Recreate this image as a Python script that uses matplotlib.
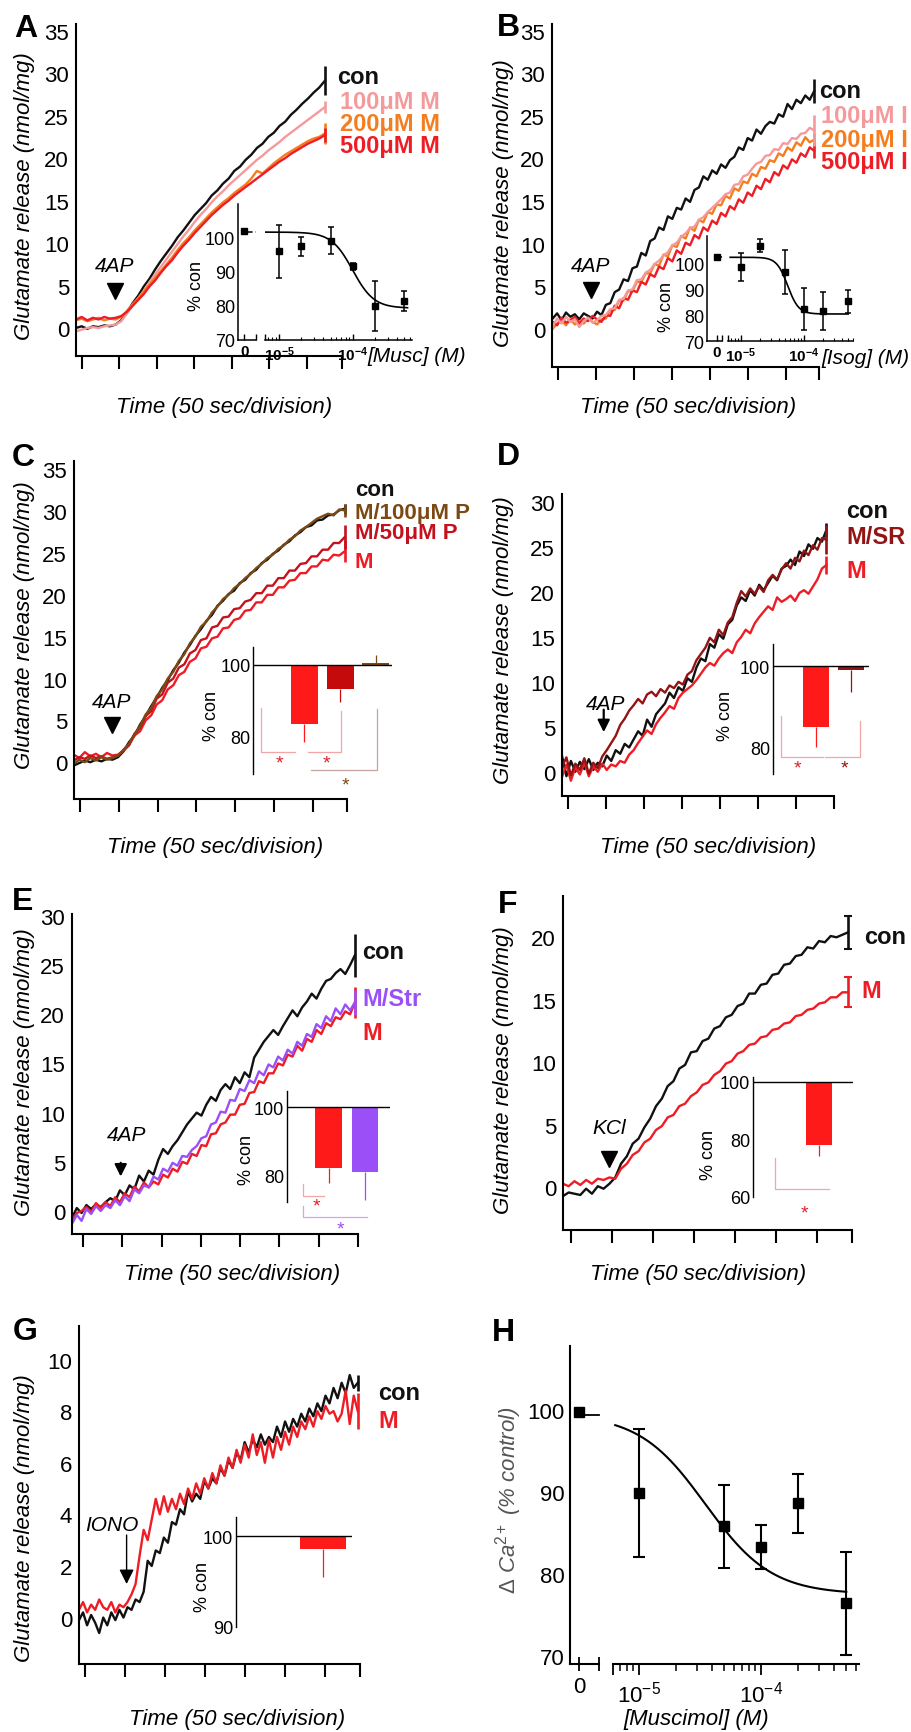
import numpy as np
import matplotlib
matplotlib.use('Agg')
import matplotlib.pyplot as plt
from matplotlib.ticker import LogLocator, NullFormatter, FixedLocator

plt.rcParams['font.family'] = ['Liberation Sans', 'DejaVu Sans']
plt.rcParams['mathtext.fontset'] = 'custom'
plt.rcParams['mathtext.rm'] = 'Liberation Sans'
plt.rcParams['mathtext.it'] = 'Liberation Sans:italic'
plt.rcParams['mathtext.bf'] = 'Liberation Sans:bold'

# ---------------- colours ----------------
BLACK = '#111111'
PINK = '#F49A9C'
ORANGE = '#F47D20'
RED = '#EE1C25'
BROWN = '#7B4A14'
DKRED = '#C3121E'
MAROON = '#931414'
PURPLE = '#9B4FF7'
LPINK = '#F3A6A8'
LPURPLE = '#C9A6F6'
LBROWN = '#C4A4A0'

# ---------------- data ----------------
TICKS_S = [0, 50, 100, 150, 200, 250, 300]

# Panel A (time range of traces, s)
A_T = (-8, 324)
A_CON = [0.0, 0.2, -0.1, 0.2, 0.1, 0.3, 0.2, 0.4, 0.9, 1.8, 2.9, 3.8, 4.9, 5.8, 6.9, 7.9, 8.8, 9.7, 10.7, 11.5,
         12.4, 13.3, 14.0, 14.7, 15.6, 16.2, 17.0, 17.6, 18.5, 19.0, 19.8, 20.4, 21.2, 21.7, 22.5, 23.0, 23.8, 24.3,
         25.1, 25.7, 26.4, 27.0, 27.7, 28.3, 29.1]
A_100 = [-0.4, -0.2, 0.0, 0.1, 0.0, 0.2, 0.3, 0.4, 0.8, 1.7, 2.6, 3.5, 4.4, 5.4, 6.3, 7.2, 8.1, 9.0, 9.9, 10.8,
         11.6, 12.5, 13.3, 14.0, 14.8, 15.5, 16.1, 16.8, 17.4, 18.0, 18.6, 19.2, 19.8, 20.3, 20.9, 21.4, 21.9, 22.5,
         23.0, 23.5, 24.0, 24.5, 25.0, 25.5, 26.0]
A_200 = [0.9, 1.1, 0.8, 1.0, 1.2, 0.9, 1.1, 1.0, 1.3, 2.0, 2.8, 3.5, 4.3, 5.1, 5.9, 6.7, 7.5, 8.3, 9.2, 10.0,
         10.7, 11.5, 12.2, 12.9, 13.6, 14.2, 14.8, 15.3, 15.9, 16.4, 16.9, 17.6, 18.5, 18.2, 18.8, 19.4, 19.9, 20.4,
         20.8, 21.2, 21.6, 22.0, 22.3, 22.5, 22.9]
A_500 = [1.0, 1.3, 0.9, 1.2, 1.0, 1.3, 1.1, 1.2, 1.4, 1.9, 2.6, 3.3, 4.0, 4.9, 5.6, 6.5, 7.3, 8.0, 8.9, 9.7,
         10.4, 11.2, 11.9, 12.6, 13.3, 13.9, 14.5, 15.0, 15.6, 16.1, 16.6, 17.1, 17.6, 18.1, 18.6, 19.1, 19.6, 20.0,
         20.5, 20.9, 21.3, 21.7, 22.0, 22.3, 22.7]
A_ERR = [1.7, 0.7, 1.2, 0.8]

# Panel B
B_T = (-7, 337)
B_CON = [1.2, 1.8, 1.0, 1.9, 1.4, 1.7, 1.1, 1.8, 1.5, 1.2, 2.0, 1.6, 2.8, 3.0, 4.3, 4.6, 5.8, 5.6, 7.1, 7.3,
         8.9, 8.6, 10.3, 10.6, 11.9, 11.6, 13.2, 12.9, 14.2, 14.0, 15.3, 14.9, 16.3, 16.6, 17.9, 17.5, 18.6, 18.2,
         19.3, 18.9, 19.8, 20.2, 21.3, 21.0, 22.4, 22.1, 23.4, 22.9, 23.8, 24.3, 24.1, 25.2, 24.9, 26.4, 25.8, 26.9,
         26.5, 27.4, 26.9, 27.9]
B_100 = [0.3, 1.2, 0.6, 1.4, 0.8, 1.1, 0.2, 0.9, 1.3, 0.7, 1.0, 1.5, 1.6, 2.3, 2.4, 3.4, 3.5, 4.5, 4.6, 5.7,
         5.8, 6.6, 6.9, 7.6, 8.0, 8.6, 9.0, 9.8, 10.1, 10.8, 11.2, 11.8, 12.0, 12.8, 13.1, 13.7, 14.2, 14.7, 15.2,
         15.8, 16.0, 16.9, 17.0, 17.9, 18.1, 18.8, 19.4, 19.6, 20.3, 20.4, 21.1, 21.0, 21.8, 21.7, 22.4, 22.3, 22.9,
         23.0, 23.6, 23.3]
B_200 = [0.0, 0.6, 1.0, 0.4, 1.1, 0.5, 0.9, 0.6, 1.2, 0.8, 0.5, 1.1, 1.2, 2.2, 2.2, 3.3, 3.3, 4.4, 4.4, 5.5,
         5.5, 6.5, 6.5, 7.6, 7.4, 8.7, 8.5, 9.8, 9.6, 10.9, 10.6, 11.9, 11.5, 12.8, 12.5, 13.7, 13.5, 14.6, 14.5,
         15.6, 15.3, 16.5, 16.2, 17.3, 17.1, 18.2, 17.9, 19.0, 18.8, 19.8, 19.6, 20.6, 20.3, 21.3, 20.9, 21.9, 21.5,
         22.5, 21.9, 22.2]
B_500 = [0.8, 0.4, 1.3, 0.7, 1.0, 1.4, 0.6, 1.2, 0.9, 1.5, 1.1, 0.8, 1.6, 1.5, 2.7, 2.4, 3.6, 3.4, 4.5, 4.3,
         5.5, 5.2, 6.4, 6.1, 7.3, 7.0, 8.3, 7.9, 9.2, 8.8, 10.1, 9.8, 11.0, 10.6, 11.9, 11.5, 12.7, 12.3, 13.6,
         13.2, 14.4, 14.0, 15.2, 14.8, 16.0, 15.6, 16.8, 16.4, 17.6, 17.2, 18.4, 18.0, 19.2, 18.8, 19.9, 19.5, 20.6,
         20.2, 21.3, 20.9]
B_ERR = [1.4, 1.8, 0.8, 0.9]

# Panel C
C_T = (-8, 341)
C_CON = [-0.4, -0.1, 0.2, 0.0, 0.3, 0.1, 0.4, 0.3, 0.6, 1.3, 2.4, 3.2, 4.5, 5.5, 6.7, 7.7, 8.9, 9.8, 11.0, 11.9,
         13.1, 14.0, 15.1, 15.9, 16.9, 17.6, 18.7, 19.3, 20.1, 20.5, 21.4, 21.8, 22.6, 23.0, 23.8, 24.2, 24.9, 25.3,
         26.0, 26.4, 27.1, 27.5, 28.1, 28.3, 28.9, 29.0, 29.5, 29.6, 30.1, 30.3]
C_100P = [-0.2, 0.3, 0.0, 0.5, 0.2, 0.6, 0.3, 0.5, 0.8, 1.5, 2.2, 3.4, 4.3, 5.7, 6.5, 7.9, 8.7, 10.0, 10.8, 12.1,
          12.9, 14.2, 15.0, 16.2, 16.8, 17.9, 18.6, 19.5, 20.0, 20.8, 21.3, 22.0, 22.5, 23.2, 23.7, 24.4, 24.8, 25.5,
          25.9, 26.6, 27.0, 27.7, 28.1, 28.6, 29.1, 29.4, 29.7, 29.5, 30.2, 30.1]
C_50P = [0.2, 0.6, 0.4, 0.8, 0.5, 0.7, 0.4, 0.6, 0.8, 1.4, 2.1, 3.4, 4.1, 5.5, 6.1, 7.6, 8.1, 9.5, 10.0, 11.3,
         11.7, 13.0, 13.4, 14.6, 14.8, 16.1, 16.3, 17.3, 17.4, 18.3, 18.4, 19.2, 19.4, 20.2, 20.2, 21.1, 21.1, 22.0,
         22.0, 22.9, 22.9, 23.7, 23.8, 24.6, 24.6, 25.4, 25.4, 26.2, 26.2, 26.9]
C_M = [0.9, 0.5, 1.2, 0.7, 1.0, 0.6, 1.1, 0.8, 0.9, 1.4, 2.0, 3.2, 3.7, 5.0, 5.6, 6.9, 7.4, 8.7, 9.2, 10.4,
       10.8, 12.0, 12.4, 13.6, 13.8, 14.8, 15.0, 16.0, 16.1, 17.0, 17.2, 18.1, 18.2, 19.1, 19.1, 20.0, 20.0, 20.9,
       20.9, 21.7, 21.8, 22.6, 22.6, 23.4, 23.4, 24.2, 24.1, 24.8, 24.7, 25.2]
C_ERR = [0.6, 0.8, 1.4, 1.3]
C_BAR_VALS = [83.5, 93.1, 100.4]
C_BAR_LO = [5.1, 3.5, 0.0]
C_BAR_HI = [0.0, 0.0, 2.3]

# Panel D
D_T = (-8, 340)
D_CON = [1.8, -0.5, 1.2, 0.0, 1.1, 0.3, 1.4, 0.2, 1.0, 0.6, 1.8, 1.2, 2.4, 2.0, 3.1, 2.7, 3.6, 4.5, 4.0, 5.8,
         5.0, 6.4, 7.0, 7.6, 8.8, 8.2, 9.4, 9.0, 10.4, 10.0, 11.6, 12.6, 12.3, 14.2, 13.8, 15.3, 14.8, 16.4, 16.9,
         18.5, 19.4, 19.0, 20.2, 19.6, 20.8, 20.2, 21.0, 21.8, 21.3, 22.6, 22.9, 23.6, 23.0, 24.5, 24.0, 25.3, 24.8,
         26.0, 25.6, 26.9]
D_SR = [0.5, 1.6, -0.4, 0.9, 0.2, 1.5, -0.2, 1.0, 0.4, 1.7, 2.4, 3.2, 4.0, 5.2, 5.9, 6.8, 7.4, 8.1, 7.6, 8.6,
        8.9, 8.4, 9.2, 8.8, 9.6, 9.3, 10.0, 9.7, 10.8, 11.2, 12.4, 13.1, 13.8, 14.9, 14.4, 15.8, 15.2, 16.6, 17.2,
        18.8, 20.1, 19.5, 20.4, 19.8, 20.6, 20.0, 21.3, 21.9, 21.4, 22.5, 23.2, 22.6, 23.8, 23.4, 24.6, 24.1, 25.2,
        24.7, 26.0, 25.8]
D_M = [-0.6, 0.8, -1.0, 0.5, -0.3, 1.0, -0.5, 0.6, 0.0, 0.9, 0.2, 0.8, 0.6, 1.2, 1.0, 1.9, 2.4, 3.2, 3.9, 4.6,
       4.2, 5.3, 6.0, 6.6, 7.3, 7.0, 8.2, 8.8, 9.2, 9.6, 10.2, 10.9, 11.6, 12.1, 11.8, 12.6, 13.2, 13.6, 13.2, 14.4,
       15.0, 15.8, 15.4, 16.5, 17.2, 17.8, 18.4, 18.0, 19.4, 18.9, 19.2, 19.6, 19.0, 19.9, 20.2, 19.8, 20.6, 21.4,
       22.6, 23.0]
D_ERR = [0.8, 1.6, 1.0]
D_BAR_VALS = [85.0, 99.0]
D_BAR_LO = [4.9, 5.4]

# Panel E
E_T = (-14, 346)
E_CON = [-0.7, 0.3, -0.2, 0.6, 0.2, 0.7, 0.4, 0.9, 1.3, 1.0, 2.1, 1.6, 2.6, 2.2, 3.6, 3.0, 4.1, 3.7, 5.2, 6.3,
         5.8, 6.6, 7.2, 8.0, 8.8, 9.4, 10.0, 9.7, 10.8, 11.6, 11.2, 12.3, 12.9, 12.4, 13.6, 13.0, 14.1, 13.6, 15.6,
         16.4, 17.2, 17.8, 18.4, 17.9, 18.8, 19.6, 20.4, 19.8, 20.7, 21.3, 22.1, 21.6, 22.6, 23.4, 23.6, 24.2, 24.6,
         24.1, 25.0, 26.0]
E_STR = [-1.3, -0.4, -1.0, 0.2, -0.3, 0.5, 0.0, 0.6, 0.3, 1.1, 0.6, 1.5, 1.0, 2.2, 1.8, 2.6, 2.4, 3.5, 3.2, 4.3,
         4.0, 4.9, 4.6, 5.6, 5.5, 6.2, 6.6, 7.4, 7.6, 8.8, 9.0, 10.1, 10.0, 11.3, 11.2, 12.4, 12.2, 13.3, 13.0, 14.2,
         13.8, 14.9, 14.6, 15.7, 15.3, 16.4, 16.0, 17.2, 16.8, 18.0, 17.7, 19.0, 18.6, 19.8, 19.3, 20.6, 20.0, 21.0,
         20.4, 21.2]
E_M = [-0.9, -0.2, 0.0, 0.4, -0.1, 0.8, 0.3, 0.9, 0.5, 1.4, 0.9, 1.8, 1.4, 2.5, 2.0, 2.9, 2.4, 3.0, 2.7, 3.7,
       3.4, 4.3, 4.0, 5.0, 4.8, 5.8, 5.6, 6.7, 6.6, 7.8, 7.9, 8.8, 9.0, 9.8, 9.8, 10.8, 10.9, 12.0, 12.1, 13.2,
       13.0, 14.0, 14.0, 15.0, 14.8, 15.9, 15.7, 16.8, 16.3, 17.5, 17.2, 18.4, 18.0, 19.1, 18.8, 19.7, 19.5, 20.3,
       20.0, 21.2]
E_ERR = [2.2, 1.3, 1.6]
E_BAR_VALS = [82.0, 81.0]
E_BAR_LO = [4.4, 8.4]

# Panel F
F_T = (-10, 338)
F_CON = [-0.7, -0.4, -0.5, -0.6, -0.1, -0.5, 0.1, -0.1, 0.3, 0.8, 1.9, 2.5, 3.5, 3.9, 4.8, 5.5, 6.5, 7.1, 8.1, 8.5,
         9.5, 9.8, 10.8, 10.9, 11.7, 11.9, 12.7, 12.9, 13.6, 13.8, 14.5, 14.7, 15.5, 15.5, 16.2, 16.3, 17.0, 17.1,
         17.8, 17.9, 18.5, 18.6, 19.2, 19.1, 19.7, 19.6, 20.1, 20.0, 20.2, 20.4]
F_M = [0.3, 0.1, 0.5, 0.2, 0.6, 0.3, 0.7, 0.6, 0.8, 0.7, 1.5, 1.9, 2.6, 2.9, 3.6, 3.9, 4.6, 4.9, 5.6, 5.8,
       6.5, 6.7, 7.3, 7.6, 8.2, 8.4, 9.0, 9.3, 9.9, 10.1, 10.7, 10.9, 11.4, 11.5, 12.0, 12.1, 12.6, 12.7, 13.1,
       13.2, 13.7, 13.8, 14.2, 14.3, 14.7, 14.8, 15.2, 15.2, 15.6, 15.6]
F_ERR = [1.3, 1.2]
F_BAR_VALS = [78.2]
F_BAR_LO = [3.9]

# Panel G
G_T = (-7.5, 341)
G_CON = [-0.1, 0.2, -0.3, 0.1, -0.2, -0.6, 0.0, -0.3, 0.2, -0.1, 0.3, 0.0, 0.4, 0.3, 0.7, 0.6, 1.0, 2.2, 2.0, 2.6,
         2.5, 3.1, 2.9, 3.7, 3.6, 4.2, 4.0, 4.9, 4.5, 4.8, 4.6, 5.3, 5.0, 5.4, 5.2, 5.8, 5.5, 6.1, 5.8, 6.4,
         6.1, 6.8, 6.4, 6.9, 6.6, 7.1, 6.7, 7.0, 6.8, 7.4, 7.0, 7.6, 7.2, 7.7, 7.4, 7.9, 7.6, 8.1, 7.8, 8.3,
         8.0, 8.6, 8.3, 8.9, 8.5, 9.1, 8.7, 9.4, 8.9, 9.1]
G_M = [0.3, 0.6, 0.2, 0.5, 0.3, 0.7, 0.4, 0.3, 0.6, 0.2, 0.5, 0.4, 0.6, 0.9, 1.3, 2.4, 3.4, 3.0, 3.8, 4.6,
       4.0, 4.7, 4.1, 4.6, 4.2, 4.8, 4.4, 5.0, 4.6, 5.2, 4.8, 5.4, 5.0, 5.6, 5.2, 5.9, 5.5, 6.2, 5.8, 6.5,
       6.0, 6.7, 6.2, 7.1, 6.3, 6.8, 6.0, 6.9, 6.2, 7.0, 6.5, 7.2, 6.7, 7.4, 7.0, 7.6, 7.3, 7.8, 7.4, 8.0,
       7.7, 8.2, 7.9, 8.0, 7.6, 7.9, 8.8, 7.5, 8.6, 8.0]
G_ERR = [0.3, 0.7]
G_BAR_VALS = [98.6]
G_BAR_LO = [3.1]

# Dose-response insets (A: muscimol, B: isoguvacine) and panel H
DR_CONC = [1e-5, 2e-5, 5e-5, 1e-4, 2e-4, 5e-4]
A_DR_ZERO = 101.7
A_DR_VALS = [95.9, 97.3, 99.0, 91.5, 79.9, 81.3]
A_DR_ERR = [7.7, 2.8, 3.9, 1.0, 7.2, 2.9]
A_FIT = (101.5, 79.3, 1.0e-4, 3.0)      # top, bottom, IC50, Hill
B_DR_ZERO = 102.3
B_DR_VALS = [98.5, 106.8, 96.5, 82.4, 81.7, 85.4]
B_DR_ERR = [5.5, 2.5, 8.5, 8.0, 7.4, 4.4]
B_FIT = (102.3, 80.5, 5.5e-5, 5.0)
H_CONC = [1e-5, 5e-5, 1e-4, 2e-4, 5e-4]
H_ZERO = 99.8
H_VALS = [89.9, 85.8, 83.3, 88.6, 76.4]
H_ERR = [7.8, 5.1, 2.65, 3.6, 6.3]
H_FIT = (99.5, 77.5, 3.5e-5, 1.6)


def hill(c, top, bottom, ic50, n):
    c = np.asarray(c)
    return bottom + (top - bottom) / (1.0 + (c / ic50) ** n)


# ---------------- figure helpers ----------------
W, H = 912, 1733
fig = plt.figure(figsize=(W / 100, H / 100), dpi=100)
fig.patch.set_facecolor('white')


def box(l, r, t, b):
    return [l / W, 1 - b / H, (r - l) / W, (b - t) / H]


def ftext(x, y, s, **kw):
    kw.setdefault('ha', 'center')
    kw.setdefault('va', 'center')
    fig.text(x / W, 1 - y / H, s, **kw)


def style(ax, keep=('left', 'bottom'), lw=1.5):
    for s in ['left', 'right', 'top', 'bottom']:
        ax.spines[s].set_visible(s in keep)
        ax.spines[s].set_linewidth(lw)
    ax.patch.set_alpha(0)


def main_axes(l, r, t, b, xr, yr, yt):
    ax = fig.add_axes(box(l, r, t, b))
    style(ax)
    ax.set_xlim(xr)
    ax.set_ylim(yr)
    ax.set_xticks(TICKS_S + [xr[1]])
    ax.set_xticklabels([])
    ax.set_yticks(yt)
    ax.tick_params(axis='x', direction='out', length=9, width=1.5)
    ax.tick_params(axis='y', length=0, pad=5, labelsize=16)
    return ax


def traces(ax, trange, series, capsize=0):
    for vals, col, err in series:
        t = np.linspace(trange[0], trange[1], len(vals))
        ax.plot(t, vals, color=col, lw=1.7)
        ax.errorbar([trange[1]], [vals[-1]], yerr=[err], fmt='none', ecolor=col,
                    elinewidth=1.9, capsize=capsize, capthick=1.5)


def tri_arrow(ax, t, y, label, ty, ms=12):
    ax.plot([t], [y], marker='v', ms=ms, color='k', clip_on=False)
    ax.text(t, ty, label, style='italic', fontsize=15, ha='center', va='center')


def stem_arrow(ax, t, y_tip, y_start, label, tx, ty, lw=1.6, scale=18):
    ax.annotate('', xy=(t, y_tip), xytext=(t, y_start),
                arrowprops=dict(arrowstyle='-|>', color='k', lw=lw, mutation_scale=scale,
                                shrinkA=0, shrinkB=0))
    ax.text(tx, ty, label, style='italic', fontsize=15, ha='center', va='center')


def bar_inset(l, r, t, b, xr, yr, yt, vals, lo, hi, colors, width):
    ax = fig.add_axes(box(l, r, t, b))
    style(ax, keep=('left',), lw=1.0)
    ax.set_xlim(xr)
    ax.set_ylim(yr)
    ax.set_xticks([])
    ax.set_yticks(yt)
    ax.tick_params(axis='y', length=0, labelsize=13, pad=2)
    x = np.arange(1, len(vals) + 1)
    ax.bar(x, np.array(vals) - 100, bottom=100, width=width, color=colors, edgecolor='none')
    ax.axhline(100, color='k', lw=1.0)
    for xi, v, l_, h_, c in zip(x, vals, lo, hi, colors):
        ax.errorbar([xi], [v], yerr=[[l_], [h_]], fmt='none', ecolor=c, elinewidth=0.9, capsize=0)
    return ax


def bracket(ax, xs, ys, color):
    ax.plot(xs, ys, color=color, lw=0.9, clip_on=False)


def star(ax, x, y, color):
    ax.text(x, y, '*', color=color, fontsize=14, ha='center', va='center', clip_on=False)


def dose_inset(box0, box1, yr, xr0, xr1, zero, vals, errs, fit, curve_lo, curve_hi):
    a0 = fig.add_axes(box(*box0))
    style(a0, lw=1.1)
    a0.set_xlim(xr0)
    a0.set_ylim(yr)
    a0.set_yticks([70, 80, 90, 100])
    a0.tick_params(axis='y', length=0, labelsize=13, pad=2)
    a0.set_xticks([0, xr0[1]])
    a0.set_xticklabels(['0', ''])
    a0.tick_params(axis='x', direction='in', length=4, width=1.0, labelsize=11, pad=3)
    for lb in a0.get_xticklabels():
        lb.set_fontweight('bold')
    a0.plot([0], [zero], 's', ms=4, color='k', clip_on=False)
    a0.plot([0.35, xr0[1]], [fit[0], fit[0]], color='k', lw=1.1, ls=(0, (3, 2)), clip_on=False)

    a1 = fig.add_axes(box(*box1))
    style(a1, keep=('bottom',), lw=1.1)
    a1.set_xscale('log')
    a1.set_xlim(xr1)
    a1.set_ylim(yr)
    a1.set_yticks([])
    a1.xaxis.set_major_locator(FixedLocator([xr1[0], 1e-5, 1e-4]))
    a1.set_xticklabels(['', r'$\mathbf{10^{-5}}$', r'$\mathbf{10^{-4}}$'])
    a1.xaxis.set_minor_locator(LogLocator(base=10, subs=np.arange(2, 10)))
    a1.xaxis.set_minor_formatter(NullFormatter())
    a1.tick_params(axis='x', which='major', direction='in', length=4, width=1.0, labelsize=11, pad=3)
    a1.tick_params(axis='x', which='minor', direction='in', length=2.5, width=0.8)
    c = np.logspace(np.log10(curve_lo), np.log10(curve_hi), 200)
    a1.plot(c, hill(c, *fit), color='k', lw=1.2)
    a1.errorbar(DR_CONC, vals, yerr=errs, fmt='s', ms=4, color='k', ecolor='k',
                elinewidth=1.1, capsize=2.5, capthick=1.1, clip_on=False)
    return a0, a1


# ================= Panel A =================
axA = main_axes(76, 342, 25, 357, (-8, 347), (-3.3, 35.8), [0, 5, 10, 15, 20, 25, 30, 35])
traces(axA, A_T, [(A_CON, BLACK, A_ERR[0]), (A_100, PINK, A_ERR[1]),
                  (A_200, ORANGE, A_ERR[2]), (A_500, RED, A_ERR[3])])
tri_arrow(axA, 44, 4.4, '4AP', 7.3)
dose_inset((238, 255.7, 205, 341), (265, 411.7, 205, 341), (70, 109.7), (-0.63, 1.14),
           (10 ** -5.195, 10 ** -3.195), A_DR_ZERO, A_DR_VALS, A_DR_ERR, A_FIT, 10 ** -5.195, 5.6e-4)

# ================= Panel B =================
axB = main_axes(552, 819, 25, 368, (-7.9, 343.4), (-4.5, 35.8), [0, 5, 10, 15, 20, 25, 30, 35])
traces(axB, B_T, [(B_CON, BLACK, B_ERR[0]), (B_200, ORANGE, B_ERR[2]),
                  (B_500, RED, B_ERR[3]), (B_100, PINK, B_ERR[1])])
tri_arrow(axB, 43, 4.6, '4AP', 7.4)
dose_inset((707.3, 721.7, 236.7, 342.3), (728.3, 853.3, 236.7, 342.3), (70, 110.6), (-0.94, 0.5),
           (10 ** -5.2, 10 ** -3.22), B_DR_ZERO, B_DR_VALS, B_DR_ERR, B_FIT, 10 ** -5.17, 5.0e-4)

# ================= Panel C =================
axC = main_axes(74, 347, 462, 800, (-7.7, 344), (-4.4, 36.0), [0, 5, 10, 15, 20, 25, 30, 35])
traces(axC, C_T, [(C_CON, BLACK, C_ERR[0]), (C_M, RED, C_ERR[3]),
                  (C_50P, DKRED, C_ERR[2]), (C_100P, BROWN, C_ERR[1])])
tri_arrow(axC, 41, 4.5, '4AP', 7.3)
axCi = bar_inset(253.3, 391.7, 648.3, 775, (-0.42, 3.44), (69.6, 104.8), [80, 100],
                 C_BAR_VALS, C_BAR_LO, C_BAR_HI, ['#FF1A1A', '#C40A0A', BROWN], 0.75)
bracket(axCi, [-0.21, -0.21, 0.74], [87.9, 75.7, 75.7], LPINK)
bracket(axCi, [1.11, 2.03, 2.03], [75.7, 75.7, 87.2], LPINK)
bracket(axCi, [1.19, 3.03, 3.03], [70.6, 70.6, 87.7], LBROWN)
star(axCi, 0.30, 72.6, '#E0202A')
star(axCi, 1.63, 72.6, '#E0202A')
star(axCi, 2.14, 66.6, BROWN)

# ================= Panel D =================
axD = main_axes(562, 834, 495, 797, (-7.9, 350), (-2.7, 30.9), [0, 5, 10, 15, 20, 25, 30])
traces(axD, D_T, [(D_CON, BLACK, D_ERR[0]), (D_M, RED, D_ERR[2]), (D_SR, MAROON, D_ERR[1])])
stem_arrow(axD, 47, 4.4, 6.9, '4AP', 50, 7.6)
axDi = bar_inset(773, 869, 645, 775, (-0.23, 2.51), (73.5, 105.4), [80, 100],
                 D_BAR_VALS, D_BAR_LO, [0, 0], ['#FF1A1A', MAROON], 0.74)
bracket(axDi, [0.0, 0.0, 1.19], [87.8, 77.6, 77.6], LPINK)
bracket(axDi, [1.24, 2.24, 2.24], [77.6, 77.6, 86.6], LPINK)
star(axDi, 0.48, 74.9, '#E0202A')
star(axDi, 1.81, 74.9, MAROON)

# ================= Panel E =================
axE = main_axes(72, 358, 915, 1235, (-14, 350), (-2.34, 30.2), [0, 5, 10, 15, 20, 25, 30])
traces(axE, E_T, [(E_CON, BLACK, E_ERR[0]), (E_M, RED, E_ERR[2]), (E_STR, PURPLE, E_ERR[1])])
stem_arrow(axE, 48, 3.5, 4.9, '4AP', 55, 7.8)
axEi = bar_inset(287, 390, 1092, 1203, (-0.14, 2.68), (72.1, 104.7), [80, 100],
                 E_BAR_VALS, E_BAR_LO, [0, 0], ['#FF1A1A', PURPLE], 0.73)
bracket(axEi, [0.30, 0.30, 0.86], [77.4, 73.8, 73.8], LPINK)
bracket(axEi, [0.30, 0.30, 2.05], [70.9, 67.6, 67.6], LPURPLE)
star(axEi, 0.68, 70.9, '#E0202A')
star(axEi, 1.32, 64.3, PURPLE)

# ================= Panel F =================
axF = main_axes(563, 852, 897, 1231, (-9.8, 342.7), (-3.4, 23.3), [0, 5, 10, 15, 20])
traces(axF, F_T, [(F_CON, BLACK, F_ERR[0]), (F_M, RED, F_ERR[1])], capsize=3)
tri_arrow(axF, 46.7, 2.3, 'KCl', 4.8, ms=11)
axFi = bar_inset(753, 853, 1078, 1198, (-0.89, 1.97), (60.75, 101.7), [60, 80, 100],
                 F_BAR_VALS, F_BAR_LO, [0], ['#FF1A1A'], 0.74)
bracket(axFi, [-0.26, -0.26, 1.29], [73.7, 62.8, 62.8], LPINK)
star(axFi, 0.57, 54.3, '#E0202A')

# ================= Panel G =================
axG = main_axes(79, 360, 1327, 1665, (-7.5, 343.75), (-1.8, 11.3), [0, 2, 4, 6, 8, 10])
traces(axG, G_T, [(G_CON, BLACK, G_ERR[0]), (G_M, RED, G_ERR[1])])
stem_arrow(axG, 52, 1.3, 3.2, 'IONO', 33, 3.6, lw=1.0, scale=22)
axGi = bar_inset(236, 352, 1518, 1628, (-1.49, 1.83), (90, 102.1), [90, 100],
                 G_BAR_VALS, G_BAR_LO, [0], ['#FF1A1A'], 1.34)

# ================= Panel H =================
H_YL = (69.0, 107.8)
h0 = fig.add_axes(box(570, 599, 1347, 1665))
style(h0, lw=1.5)
h0.set_xlim(-0.9, 2.0)
h0.set_ylim(H_YL)
h0.set_yticks([70, 80, 90, 100])
h0.tick_params(axis='y', length=0, labelsize=16, pad=4)
h0.set_xticks([0, 2.0])
h0.set_xticklabels(['0', ''])
h0.tick_params(axis='x', direction='inout', length=10, width=1.3, labelsize=16, pad=4)
h0.plot([0], [H_ZERO], 's', ms=7, color='k', clip_on=False)
h0.plot([0, 2.0], [H_FIT[0] - 0.1, H_FIT[0] - 0.1], color='k', lw=1.3, clip_on=False)

h1 = fig.add_axes(box(613, 859, 1347, 1665))
style(h1, keep=('bottom',), lw=1.5)
h1.set_xscale('log')
h1.set_xlim(10 ** -5.213, 10 ** -3.197)
h1.set_ylim(H_YL)
h1.set_yticks([])
h1.xaxis.set_major_locator(FixedLocator([10 ** -5.213, 1e-5, 1e-4]))
h1.set_xticklabels(['', r'$10^{-5}$', r'$10^{-4}$'])
h1.xaxis.set_minor_locator(LogLocator(base=10, subs=np.arange(2, 10)))
h1.xaxis.set_minor_formatter(NullFormatter())
h1.tick_params(axis='x', which='major', direction='out', length=8, width=1.3, labelsize=16, pad=4)
h1.tick_params(axis='x', which='minor', direction='out', length=5, width=1.1)
hc = np.logspace(-5.195, np.log10(5e-4), 200)
h1.plot(hc, hill(hc, *H_FIT), color='k', lw=1.5)
h1.errorbar(H_CONC, H_VALS, yerr=H_ERR, fmt='s', ms=7, color='k', ecolor='k',
            elinewidth=1.5, capsize=4, capthick=1.5, clip_on=False)

# ================= texts =================
for x, y, s in [(26, 29, 'A'), (508, 28, 'B'), (23, 458, 'C'), (508, 457, 'D'),
                (23, 902, 'E'), (508, 905, 'F'), (25, 1332, 'G'), (503, 1333, 'H')]:
    ftext(x, y, s, fontsize=23, fontweight='bold')

YL = 'Glutamate release (nmol/mg)'
for x, y in [(25, 196), (503, 203), (25, 625), (504, 640), (25, 1072), (504, 1070), (25, 1518)]:
    ftext(x, y, YL, rotation=90, style='italic', fontsize=16)

XL = 'Time (50 sec/division)'
for x, y in [(224, 408), (688, 408), (215, 848), (708, 848), (232, 1275), (698, 1275), (237, 1720)]:
    ftext(x, y, XL, style='italic', fontsize=16)

for x, y in [(197, 286), (667, 307), (212, 716), (726, 716), (247, 1160), (709, 1155), (203, 1587)]:
    ftext(x, y, '% con', rotation=90, fontsize=13)

ftext(367, 357, '[Musc] (M)', ha='left', style='italic', fontsize=15)
ftext(821, 358, '[Isog] (M)', ha='left', style='italic', fontsize=15)
ftext(696, 1720, '[Muscimol] (M)', style='italic', fontsize=16)
ftext(509, 1500, r'$\Delta$ Ca$^{2+}$ (% control)', rotation=90, style='italic', fontsize=16, color='#555555')

labels = [
    (337, 78, 'con', BLACK, 17), (340, 102, '100μM M', PINK, 17), (340, 124, '200μM M', ORANGE, 17),
    (340, 147, '500μM M', RED, 17),
    (819, 92, 'con', BLACK, 17), (821, 117, '100μM I', PINK, 17), (821, 140, '200μM I', ORANGE, 17),
    (821, 163, '500μM I', RED, 17),
    (355, 491, 'con', BLACK, 16), (355, 513, 'M/100μM P', BROWN, 16), (355, 533, 'M/50μM P', DKRED, 16),
    (355, 563, 'M', RED, 16),
    (846, 512, 'con', BLACK, 17), (846, 538, 'M/SR', MAROON, 17), (846, 572, 'M', RED, 17),
    (362, 953, 'con', BLACK, 17), (362, 1000, 'M/Str', PURPLE, 17), (362, 1033, 'M', RED, 17),
    (864, 938, 'con', BLACK, 17), (861, 992, 'M', RED, 17),
    (378, 1393, 'con', BLACK, 17), (378, 1422, 'M', RED, 17),
]
for x, y, s, c, fs in labels:
    ftext(x, y, s, ha='left', fontsize=fs, fontweight='bold', color=c)

fig.savefig('out.png', dpi=100)
